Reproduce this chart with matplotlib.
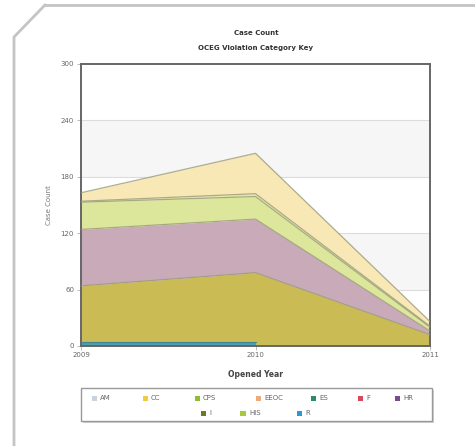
import matplotlib
matplotlib.use("Agg")
import matplotlib.pyplot as plt
import numpy as np
from matplotlib.patches import Rectangle
from matplotlib.lines import Line2D

# ---- data ----
years = [2009, 2010, 2011]
r_vals = [4, 4, np.nan]          # R (teal), only drawn 2009-2010
i_vals = [60, 74, 12]            # mustard layer
hr_vals = [60, 57, 4]            # mauve layer
his_vals = [29, 24, 4]           # light green layer
cps_vals = [1, 3, 1]             # thin green layer
cc_vals = [9, 43, 5]             # pale yellow top layer

layer_colors = ["#4d9fae", "#cbbb55", "#c8aab8", "#dde79c", "#e3eaa4", "#f8e8b6"]

legend_labels = ["AM", "CC", "CPS", "EEOC", "ES", "F", "HR", "I", "HIS", "R"]
legend_colors = ["#c9d3df", "#f0cc3c", "#8dbf2a", "#f0a97c", "#2a8a72", "#d9475a",
                 "#7b4a8c", "#6b7a2a", "#a9c93c", "#2a9ad0"]

yticks = [0, 60, 120, 180, 240, 300]

W, H = 475, 446
fig = plt.figure(figsize=(W / 100, H / 100), dpi=100)
fig.patch.set_facecolor("white")

def fx(px):
    return px / W

def fy(py):
    return 1 - py / H

# outer frame with clipped corner
fig.add_artist(Line2D([fx(45), fx(476)], [fy(5), fy(5)], color="#c4c4c4", lw=2, transform=fig.transFigure))
fig.add_artist(Line2D([fx(45), fx(14), fx(14)], [fy(5), fy(37), fy(447)], color="#c4c4c4", lw=2, transform=fig.transFigure))

ax = fig.add_axes([fx(81), fy(346), fx(430) - fx(81), fy(64) - fy(346)])
ax.set_xlim(2009, 2011)
ax.set_ylim(0, 300)

# background bands and grid
for lo in (60, 180):
    ax.axhspan(lo, lo + 60, color="#f6f6f6", zorder=0, lw=0)
for yv in yticks[1:-1]:
    ax.axhline(yv, color="#dcdcdc", lw=0.8, zorder=0.5)

x = np.array(years, dtype=float)
r = np.array(r_vals, dtype=float)
base = np.nan_to_num(r)

bottom = base.copy()
first = True
for vals, col in zip([i_vals, hr_vals, his_vals, cps_vals, cc_vals], layer_colors[1:]):
    top = bottom + np.array(vals, dtype=float)
    ax.fill_between(x, 0 if first else bottom, top, color=col, lw=0, zorder=1.5)
    ax.plot(x, top, color="#9a9a78", lw=0.9, zorder=3, alpha=0.8)
    bottom = top
    first = False

# R layer on top of the base
mask = ~np.isnan(r)
ax.fill_between(x[mask], 0, r[mask], color=layer_colors[0], lw=0, zorder=2)
ax.plot(x[mask], r[mask], color="#3f8796", lw=0.8, zorder=3)

for s in ax.spines.values():
    s.set_color("#666666")
    s.set_linewidth(1.4)

ax.set_yticks(yticks)
ax.set_yticklabels([str(v) for v in yticks])
ax.set_xticks(years)
ax.set_xticklabels([str(v) for v in years])
ax.tick_params(axis="both", labelsize=5, colors="#b0b0b0", labelcolor="#666666", length=3, width=0.6)
ax.tick_params(axis="x", pad=1)
ax.tick_params(axis="y", pad=2)
ax.set_ylabel("Case Count", fontsize=5, color="#777777", labelpad=6)
ax.set_xlabel("Opened Year", fontsize=5.5, color="#444444", fontweight="bold", labelpad=9)

fig.text(fx(256), fy(33), "Case Count", ha="center", va="center", fontsize=5, fontweight="bold", color="#333333")
fig.text(fx(256), fy(48), "OCEG Violation Category Key", ha="center", va="center", fontsize=5, fontweight="bold", color="#333333")

# legend box
shadow = Rectangle((fx(83), fy(423)), fx(432) - fx(81), fy(388) - fy(421), transform=fig.transFigure,
                   facecolor="#d0d0d0", edgecolor="none", zorder=1)
box = Rectangle((fx(81), fy(421)), fx(432) - fx(81), fy(388) - fy(421), transform=fig.transFigure,
                facecolor="white", edgecolor="#999999", lw=1, zorder=2)
fig.add_artist(shadow)
fig.add_artist(box)

row1_x = [94, 145, 197, 258, 313, 360, 397]
row2_x = [203, 243, 299]
positions = [(px, 398) for px in row1_x] + [(px, 413) for px in row2_x]
for (px, py), lab, col in zip(positions, legend_labels, legend_colors):
    fig.add_artist(Rectangle((fx(px - 2.5), fy(py + 2.5)), fx(5), 5 / H, transform=fig.transFigure,
                             facecolor=col, edgecolor="none", zorder=3))
    fig.text(fx(px + 6), fy(py), lab, ha="left", va="center", fontsize=5, color="#666666", zorder=3)

fig.savefig("out.png", dpi=100)
